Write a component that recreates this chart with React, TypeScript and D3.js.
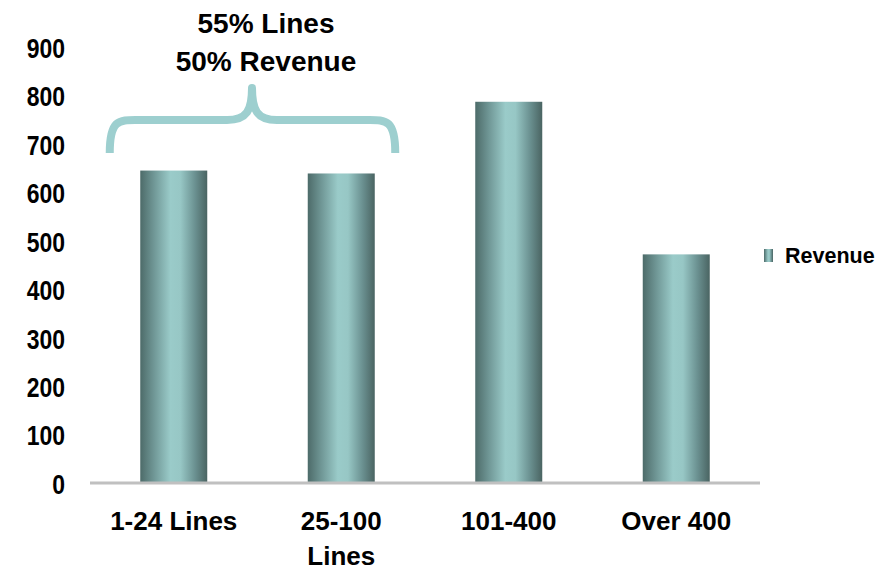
import React from "react";
import * as d3 from "d3";

const categories = ["1-24 Lines", "25-100 Lines", "101-400", "Over 400"];
const categoryLines = [["1-24 Lines"], ["25-100", "Lines"], ["101-400"], ["Over 400"]];
const revenue = [647, 641, 789, 474];
const yTicks = [0, 100, 200, 300, 400, 500, 600, 700, 800, 900];
const seriesName = "Revenue";
const annotation = ["55% Lines", "50% Revenue"];

const W = 892;
const H = 572;
const font = "'Liberation Sans', Arial, sans-serif";

export default function App() {
  const x = d3.scaleBand<string>().domain(categories).range([90, 760]).paddingInner(0.6).paddingOuter(0.3);
  const y = d3.scaleLinear().domain([0, 900]).range([484, 48]);
  const c0 = (x(categories[0]) ?? 0) + x.bandwidth() / 2;
  const c1 = (x(categories[1]) ?? 0) + x.bandwidth() / 2;
  const bl = c0 - 64;
  const br = c1 + 54;
  const tip = (bl + br) / 2 - 0.5;
  const by = 120;
  const bend = 153;
  const btop = 88;
  const brace = `M${bl},${bend} C${bl},${by - 2} ${bl + 10},${by} ${bl + 30},${by} L${tip - 25},${by} C${tip - 5},${by} ${tip},${by - 10} ${tip},${btop} C${tip},${by - 10} ${tip + 5},${by} ${tip + 25},${by} L${br - 30},${by} C${br - 10},${by} ${br},${by - 2} ${br},${bend}`;
  return (
    <svg width={W} height={H} style={{ position: "absolute", left: 0, top: 0, background: "#fff" }} fontFamily={font}>
      <defs>
        <linearGradient id="barGrad" x1="0" x2="1" y1="0" y2="0">
          <stop offset="0" stopColor="#4d6b69" />
          <stop offset="0.2" stopColor="#6f9695" />
          <stop offset="0.45" stopColor="#9acbc9" />
          <stop offset="0.6" stopColor="#97c7c5" />
          <stop offset="0.82" stopColor="#6a9090" />
          <stop offset="1" stopColor="#4a6462" />
        </linearGradient>
      </defs>
      {yTicks.map((t) => (
        <text
          key={t}
          transform={`translate(65,${y(t)}) scale(0.82,1)`}
          textAnchor="end"
          dominantBaseline="central"
          fontSize={28}
          fontWeight="bold"
          fill="#000"
        >
          {t}
        </text>
      ))}
      {categories.map((c, i) => (
        <rect key={c} x={x(c)} y={y(revenue[i])} width={x.bandwidth()} height={y(0) - y(revenue[i])} fill="url(#barGrad)" />
      ))}
      <line x1={90} x2={760} y1={y(0) - 1} y2={y(0) - 1} stroke="#c0c0c0" strokeWidth={3} />
      {categories.map((c, i) => (
        <text key={c} textAnchor="middle" fontSize={26} fontWeight="bold" fill="#000">
          {categoryLines[i].map((l, j) => (
            <tspan key={j} x={(x(c) ?? 0) + x.bandwidth() / 2} y={530 + j * 35}>
              {l}
            </tspan>
          ))}
        </text>
      ))}
      <path d={brace} fill="none" stroke="#9dcfcf" strokeWidth={8} strokeLinejoin="round" />
      {annotation.map((a, i) => (
        <text key={i} x={266} y={33 + i * 38} textAnchor="middle" fontSize={28} fontWeight="bold" fill="#000">
          {a}
        </text>
      ))}
      <rect x={764} y={249} width={9} height={13} fill="url(#barGrad)" />
      <text x={785} y={256} dominantBaseline="central" fontSize={21.5} fontWeight="bold" fill="#000">
        {seriesName}
      </text>
    </svg>
  );
}
